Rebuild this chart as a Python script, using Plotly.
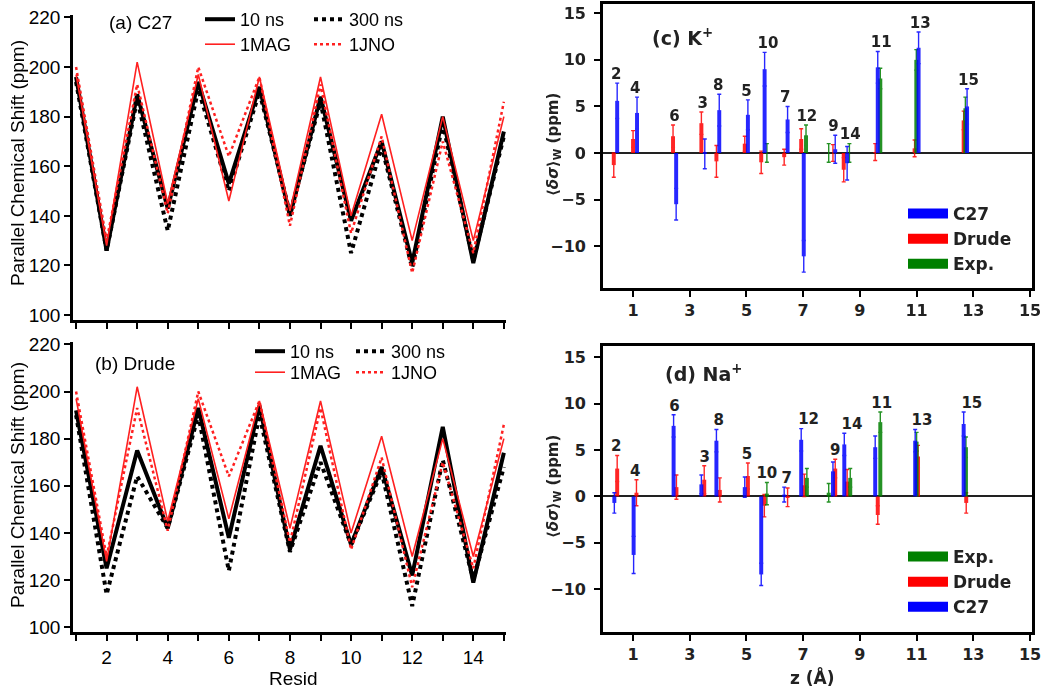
import plotly.graph_objects as go

# ---------------- data: panels (a) and (b) ----------------
resid = list(range(1, 16))
resid_ticks = [2, 4, 6, 8, 10, 12, 14]

c27_10ns = [196, 126, 189, 143, 194, 153, 192, 140, 188, 138, 170, 121, 180, 121, 174]
c27_300ns = [194, 126, 187, 134, 191, 150, 190, 141, 186, 125, 168, 119, 177, 122, 172]
drude_10ns = [192, 125, 175, 142, 193, 138, 194, 133, 177, 135, 168, 122, 185, 119, 174]
drude_300ns = [190, 114, 164, 142, 190, 124, 190, 132, 170, 135, 166, 109, 171, 120, 168]
mag_1 = [197, 128, 202, 145, 197, 146, 196, 142, 196, 140, 181, 130, 180, 130, 180]
jno_1 = [200, 130, 193, 141, 200, 164, 196, 136, 193, 133, 172, 117, 170, 125, 186]

# ---------------- data: panel (c) K+ ----------------
k_labels = ["2", "4", "6", "3", "8", "5", "10", "7", "12", "9", "14", "11", "13", "15"]
k_label_z = [0.41, 1.08, 2.46, 3.46, 4.00, 5.00, 5.76, 6.37, 7.13, 8.07, 8.66, 9.75, 11.13, 12.83]
k_c27_z = [0.44, 1.14, 2.52, 3.53, 4.04, 5.05, 5.64, 6.45, 7.02, 8.13, 8.55, 9.63, 11.07, 12.78]
k_c27_v = [5.6, 4.3, -5.5, -0.1, 4.6, 4.1, 9.0, 3.6, -11.1, 0.4, -1.1, 9.2, 11.3, 5.0]
k_c27_e = [1.9, 1.7, 1.7, 1.6, 1.7, 1.6, 1.8, 1.4, 1.7, 1.5, 1.8, 1.7, 1.7, 1.9]
k_drude_z = [0.32, 1.00, 2.41, 3.41, 3.94, 4.94, 5.52, 6.33, 6.93, 8.05, 8.43, 9.54, 10.93, 12.66]
k_drude_v = [-1.3, 1.5, 1.8, 3.2, -0.9, 1.0, -1.0, -0.45, 1.5, 0.0, -1.8, 0.1, 0.5, 3.5]
k_drude_e = [1.3, 0.9, 1.2, 1.2, 1.7, 0.8, 1.2, 0.85, 1.1, 0.9, 1.3, 0.9, 0.9, 1.0]
k_exp_z = [5.72, 7.10, 7.90, 8.63, 9.72, 10.99, 12.72]
k_exp_v = [0.0, 1.9, 0.0, 0.0, 8.0, 10.0, 4.8]
k_exp_e = [1.0, 1.1, 1.0, 1.0, 1.1, 1.1, 1.2]

# ---------------- data: panel (d) Na+ ----------------
na_labels = ["2", "4", "6", "3", "8", "5", "10", "7", "12", "9", "14", "11", "13", "15"]
na_label_z = [0.41, 1.08, 2.46, 3.53, 4.02, 5.02, 5.72, 6.42, 7.19, 8.13, 8.72, 9.77, 11.19, 12.95]
na_c27_z = [0.34, 1.02, 2.43, 3.41, 3.94, 4.94, 5.52, 6.33, 6.93, 8.05, 8.45, 9.54, 10.95, 12.66]
na_c27_v = [-0.7, -6.3, 7.6, 1.3, 6.0, 1.0, -8.4, 0.2, 6.1, 2.7, 5.6, 5.3, 6.0, 7.8]
na_c27_e = [1.1, 2.0, 1.2, 1.0, 1.2, 1.1, 1.2, 0.8, 1.2, 1.0, 1.2, 1.2, 1.2, 1.3]
na_drude_z = [0.44, 1.12, 2.53, 3.51, 4.06, 5.05, 5.63, 6.45, 7.04, 8.13, 8.55, 9.63, 11.05, 12.75]
na_drude_v = [3.0, 0.4, 1.0, 1.8, 0.7, 2.2, -1.0, -0.1, 1.2, 3.0, 1.6, -2.0, 4.3, -0.7]
na_drude_e = [1.4, 1.4, 1.3, 1.5, 1.3, 1.4, 1.2, 1.0, 1.2, 1.0, 1.3, 1.0, 1.2, 1.1]
na_exp_z = [5.72, 7.13, 7.90, 8.66, 9.72, 11.00, 12.74]
na_exp_v = [0.3, 2.0, 0.4, 2.0, 8.0, 5.9, 5.3]
na_exp_e = [1.2, 1.0, 1.0, 1.0, 1.1, 1.0, 1.1]

z_ticks = [1, 3, 5, 7, 9, 11, 13, 15]
shift_ticks = [100, 120, 140, 160, 180, 200, 220]
dsig_ticks = [-10, -5, 0, 5, 10, 15]

BLUE, RED, GREEN = "#0000ff", "#ff0000", "#008000"
ARIAL = "Liberation Sans, Arial, sans-serif"
DJV = "DejaVu Sans, sans-serif"


def px(x):
    return x / 1050.0


def py(y):
    return 1 - y / 690.0


fig = go.Figure()

# ---------- left panels ----------
def add_shift_panel(xa, ya, black_solid, black_dot, leg_row1, leg_row2):
    fig.add_trace(go.Scatter(x=resid, y=black_solid, mode="lines", name="10 ns",
                             line=dict(color="black", width=4), xaxis=xa, yaxis=ya, legend=leg_row1))
    fig.add_trace(go.Scatter(x=resid, y=black_dot, mode="lines", name="300 ns",
                             line=dict(color="black", width=4, dash="dot"), xaxis=xa, yaxis=ya, legend=leg_row1))
    fig.add_trace(go.Scatter(x=resid, y=mag_1, mode="lines", name="1MAG",
                             line=dict(color="#ff2020", width=1.6), xaxis=xa, yaxis=ya, legend=leg_row2))
    fig.add_trace(go.Scatter(x=resid, y=jno_1, mode="lines", name="1JNO",
                             line=dict(color="#ff2020", width=2.5, dash="dot"), xaxis=xa, yaxis=ya, legend=leg_row2))


add_shift_panel("x", "y", c27_10ns, c27_300ns, "legend", "legend2")
add_shift_panel("x2", "y2", drude_10ns, drude_300ns, "legend3", "legend4")


# ---------- right panels ----------
def label_heights(label_z, series):
    out = []
    for lz in label_z:
        tops = [max(v + e, 0) for zs, vs, es in series for z, v, e in zip(zs, vs, es) if abs(z - lz) <= 0.3]
        out.append(max(tops) + 0.05)
    return out


def add_bar_panel(xa, ya, leg, order, series, labels, label_z):
    named = {"C27": (series[0], BLUE), "Drude": (series[1], RED), "Exp.": (series[2], GREEN)}
    for key in ["Drude", "Exp.", "C27"]:
        (zs, vs, es), col = named[key]
        fig.add_trace(go.Bar(x=zs, y=vs, width=0.14, marker=dict(color=col, line=dict(width=0)),
                             opacity=0.85,
                             error_y=dict(type="data", array=es, color=col, thickness=1.4, width=2),
                             showlegend=False, xaxis=xa, yaxis=ya))
    for key in order:
        col = named[key][1]
        fig.add_trace(go.Scatter(x=[None], y=[None], mode="lines", name=key,
                                 line=dict(color=col, width=10), xaxis=xa, yaxis=ya, legend=leg))
    fig.add_trace(go.Scatter(x=label_z, y=label_heights(label_z, series), mode="text", text=labels,
                             textposition="top center",
                             textfont=dict(family=DJV, size=15, color="#222", weight="bold"),
                             showlegend=False, xaxis=xa, yaxis=ya, cliponaxis=False))


add_bar_panel("x3", "y3", "legend5", ["C27", "Drude", "Exp."],
              [(k_c27_z, k_c27_v, k_c27_e), (k_drude_z, k_drude_v, k_drude_e), (k_exp_z, k_exp_v, k_exp_e)],
              k_labels, k_label_z)
add_bar_panel("x4", "y4", "legend6", ["Exp.", "Drude", "C27"],
              [(na_c27_z, na_c27_v, na_c27_e), (na_drude_z, na_drude_v, na_drude_e), (na_exp_z, na_exp_v, na_exp_e)],
              na_labels, na_label_z)

# ---------- axes ----------
left_x = dict(range=[0.9, 15.07], tickmode="array", tickvals=resid_ticks,
              ticks="outside", ticklen=6, tickwidth=2, tickcolor="black", showline=True, linewidth=2.5,
              linecolor="black", showgrid=False, zeroline=False, automargin=False,
              minor=dict(tickmode="linear", tick0=1, dtick=1, ticks="outside", ticklen=6, tickwidth=2,
                         tickcolor="black", showgrid=False),
              tickfont=dict(family=ARIAL, size=19, color="black"), domain=[px(73), px(506)])
left_y = dict(range=[98, 221], tickmode="array", tickvals=shift_ticks, ticks="outside", ticklen=6,
              tickwidth=2, tickcolor="black", showline=True, linewidth=2.5, linecolor="black",
              showgrid=False, zeroline=False, automargin=False,
              tickfont=dict(family=ARIAL, size=19, color="black"))
right_x = dict(range=[-0.06, 15.07], tickmode="array", tickvals=z_ticks, ticks="outside", ticklen=6,
               tickwidth=1.5, tickcolor="black", showline=True, mirror=True, linewidth=2.8,
               linecolor="black", showgrid=False, zeroline=False, automargin=False,
               tickfont=dict(family=DJV, size=16, color="#222", weight="bold"), domain=[px(603), px(1032)])
right_y = dict(tickmode="array", tickvals=dsig_ticks, ticks="outside", ticklen=6, tickwidth=1.5,
               tickcolor="black", showline=True, mirror=True, linewidth=2.8, linecolor="black",
               showgrid=False, zeroline=True, zerolinecolor="#222", zerolinewidth=2, automargin=False,
               ticklabelstandoff=5,
               tickfont=dict(family=DJV, size=16, color="#222", weight="bold"))

fig.update_layout(
    xaxis=dict(left_x, anchor="y", showticklabels=False),
    yaxis=dict(left_y, anchor="x", domain=[py(320), py(15)]),
    xaxis2=dict(left_x, anchor="y2"),
    yaxis2=dict(left_y, anchor="x2", domain=[py(632), py(342)]),
    xaxis3=dict(right_x, anchor="y3"),
    yaxis3=dict(right_y, anchor="x3", range=[-14.5, 16.0], domain=[py(288), py(4)]),
    xaxis4=dict(right_x, anchor="y4"),
    yaxis4=dict(right_y, anchor="x4", range=[-14.6, 16.2], domain=[py(632), py(346)]),
    barmode="overlay",
    width=1050, height=690,
    margin=dict(l=0, r=0, t=0, b=0),
    paper_bgcolor="white", plot_bgcolor="white",
)

leg_font = dict(family=ARIAL, size=18, color="black")
leg_common = dict(bgcolor="rgba(0,0,0,0)", borderwidth=0, xanchor="left", yanchor="top",
                  font=leg_font, tracegroupgap=0, itemwidth=30)
row_leg = dict(leg_common, orientation="h", entrywidthmode="pixels")
bar_leg_font = dict(family=DJV, size=17, color="#222", weight="bold")
fig.update_layout(
    legend=dict(row_leg, x=px(200), y=py(1), entrywidth=64),
    legend2=dict(row_leg, x=px(200), y=py(26), entrywidth=64),
    legend3=dict(row_leg, x=px(250), y=py(333), entrywidth=56),
    legend4=dict(row_leg, x=px(250), y=py(354), entrywidth=56),
    legend5=dict(leg_common, x=px(903), y=py(196), font=bar_leg_font, itemwidth=40),
    legend6=dict(leg_common, x=px(903), y=py(539), font=bar_leg_font, itemwidth=40),
)

# ---------- text ----------
ann = [
    dict(text="(a) C27", x=px(107), y=py(23), xanchor="left", yanchor="middle",
         font=dict(family=ARIAL, size=19, color="black")),
    dict(text="(b) Drude", x=px(93), y=py(363), xanchor="left", yanchor="middle",
         font=dict(family=ARIAL, size=19, color="black")),
    dict(text="Parallel Chemical Shift (ppm)", x=px(17), y=py(163), textangle=-90,
         xanchor="center", yanchor="middle", font=dict(family=ARIAL, size=19, color="black")),
    dict(text="Parallel Chemical Shift (ppm)", x=px(17), y=py(485), textangle=-90,
         xanchor="center", yanchor="middle", font=dict(family=ARIAL, size=19, color="black")),
    dict(text="Resid", x=px(293), y=py(678), xanchor="center", yanchor="middle",
         font=dict(family=ARIAL, size=19, color="black")),
    dict(text="(c) K<sup>+</sup>", x=px(650), y=py(37), xanchor="left", yanchor="middle",
         font=dict(family=DJV, size=19, color="#222", weight="bold")),
    dict(text="(d) Na<sup>+</sup>", x=px(663), y=py(373), xanchor="left", yanchor="middle",
         font=dict(family=DJV, size=19, color="#222", weight="bold")),
    dict(text="⟨<i>δσ</i>⟩<sub>W</sub> (ppm)", x=px(553), y=py(145), textangle=-90,
         xanchor="center", yanchor="middle", font=dict(family=DJV, size=15, color="#222", weight="bold")),
    dict(text="⟨<i>δσ</i>⟩<sub>W</sub> (ppm)", x=px(553), y=py(487), textangle=-90,
         xanchor="center", yanchor="middle", font=dict(family=DJV, size=15, color="#222", weight="bold")),
    dict(text="z (Å)", x=px(812), y=py(677), xanchor="center", yanchor="middle",
         font=dict(family=DJV, size=17, color="#222", weight="bold")),
]
for a in ann:
    a.update(xref="paper", yref="paper", showarrow=False)
fig.update_layout(annotations=ann)

fig.write_html("out.html", config={"displayModeBar": False},
               post_script="document.body.style.margin='0px';document.body.style.overflow='hidden';")
